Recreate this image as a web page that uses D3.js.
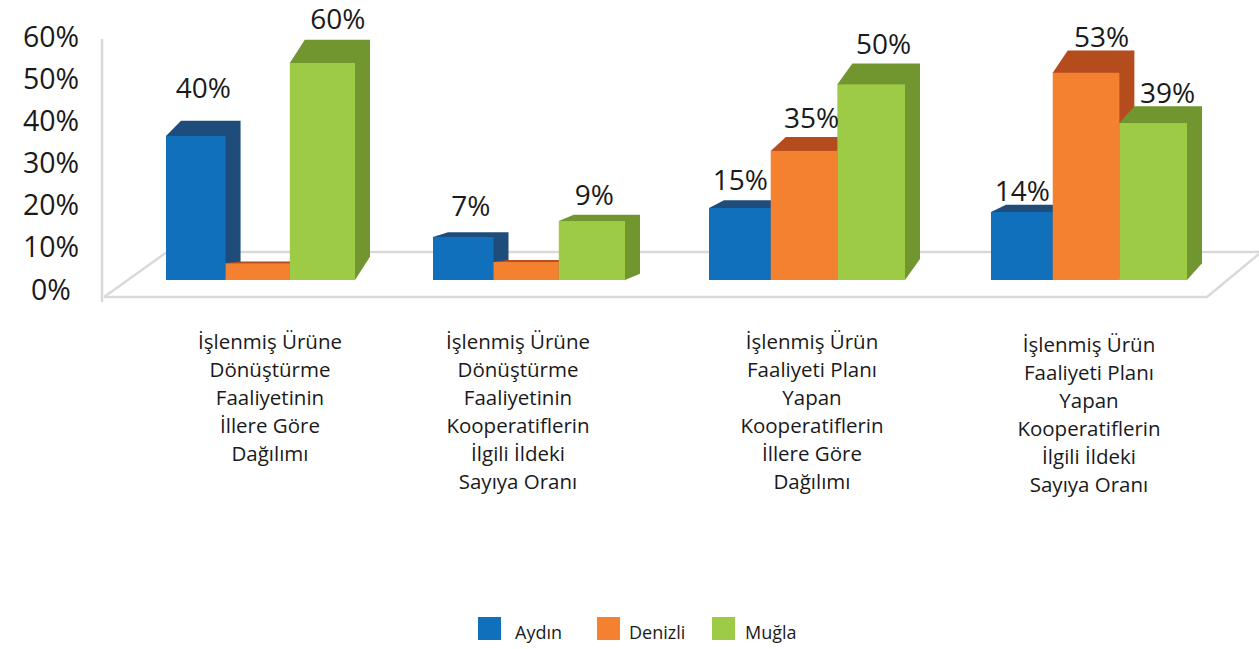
<!DOCTYPE html>
<html>
<head>
<meta charset="utf-8">
<script src="https://cdn.jsdelivr.net/npm/d3@7"></script>
<style>
    html, body { margin: 0; padding: 0; background: #fff; }
    text { font-family: "Open Sans", sans-serif; fill: #1a1a1a; }
    .domain { display: none; }
    .tick line { display: none; }
</style>
</head>
<body>
<div id="chart"></div>
<script>
var categories = [
    ["İşlenmiş Ürüne", "Dönüştürme", "Faaliyetinin", "İllere Göre", "Dağılımı"],
    ["İşlenmiş Ürüne", "Dönüştürme", "Faaliyetinin", "Kooperatiflerin", "İlgili İldeki", "Sayıya Oranı"],
    ["İşlenmiş Ürün", "Faaliyeti Planı", "Yapan", "Kooperatiflerin", "İllere Göre", "Dağılımı"],
    ["İşlenmiş Ürün", "Faaliyeti Planı", "Yapan", "Kooperatiflerin", "İlgili İldeki", "Sayıya Oranı"]
];
var seriesNames = ["Aydın", "Denizli", "Muğla"];
var tickLabels = ["0%", "10%", "20%", "30%", "40%", "50%", "60%"];

// heights as drawn in the picture, read against the front baseline
var aydin   = [39.8, 11.9, 19.9, 18.8];
var denizli = [4.6, 5, 35.7, 57.3];
var mugla   = [60, 16.3, 54.1, 43.4];

// what the bars print on top, blank where no label is shown
var aydinLabels   = ["40%", "7%", "15%", "14%"];
var denizliLabels = ["", "", "35%", "53%"];
var muglaLabels   = ["60%", "9%", "50%", "39%"];

var colors = ["#1170bb", "#f3812f", "#9dcb46"];
var sideColors = ["#1e4d7c", "#b54c1e", "#71962f"];
var wallColor = "#d9d9d9";

var width = 1259, height = 649;

// layout
var groupRange = [[166, 355], [433, 625], [709, 905], [991, 1187]];
var seriesShare = [0, 0.315, 0.655, 1];
var labelCenter = [270, 518, 812, 1089];
var labelTop = [349, 349, 349, 352];
var lineHeight = 28;
var depthX = 15, depthY = 0.107;
var labelShiftX = [[0, 0, 8], [0, 0, -5], [-7, 0, 5], [-7, 8, 7]];
var labelGap = [[23, 0, 11], [16, 0, 10], [10, 9, 9], [4, 4, 3]];
var legendX = [478, 597, 712];
var legendTextX = [515, 629, 745];

var seriesValues = [aydin, denizli, mugla];
var seriesLabels = [aydinLabels, denizliLabels, muglaLabels];

var y = d3.scaleLinear().domain([0, 60]).range([280, 63]);
var yTicks = d3.scalePoint().domain(tickLabels).range([290, 37]);
var groupX = d3.scaleOrdinal().domain(d3.range(categories.length)).range(groupRange);

var svg = d3.select("#chart").append("svg")
    .attr("width", width)
    .attr("height", height)
    .style("display", "block");

// floor and wall
var floor = svg.append("g")
    .attr("fill", "none")
    .attr("stroke", wallColor)
    .attr("stroke-width", 2.5);
floor.append("path").attr("d", "M102,39V302");
floor.append("path").attr("d", "M104,297H1207L1259,254");
floor.append("path").attr("d", "M104,297L167,252H1259");

var yAxis = d3.axisLeft(yTicks).tickSize(0).tickPadding(0);
svg.append("g")
    .attr("transform", "translate(51,0)")
    .call(yAxis)
    .selectAll("text")
    .attr("text-anchor", "middle")
    .attr("font-size", 28.5)
    .attr("font-family", '"Open Sans", sans-serif')
    .attr("fill", "#1a1a1a");

function barData(g, s) {
    var x = d3.scaleLinear().domain([0, 1]).range(groupX(g));
    var v = seriesValues[s][g];
    var dy = (y(0) - y(v)) * depthY;
    return {
        g: g, s: s,
        x0: x(seriesShare[s]), x1: x(seriesShare[s + 1]),
        top: y(v), base: y(0), dy: dy
    };
}

var bars = [];
categories.forEach(function (c, g) {
    seriesNames.forEach(function (n, s) { bars.push(barData(g, s)); });
});

var bar = svg.selectAll(".bar-group")
    .data(bars)
    .enter().append("g").attr("class", "bar-group");

bar.append("path")
    .attr("fill", function (d) { return sideColors[d.s]; })
    .attr("d", function (d) {
        return "M" + d.x0 + "," + d.top +
            "L" + (d.x0 + depthX) + "," + (d.top - d.dy) +
            "H" + (d.x1 + depthX) +
            "V" + (d.base - d.dy) +
            "L" + d.x1 + "," + d.base + "Z";
    });

bar.append("rect")
    .attr("x", function (d) { return d.x0; })
    .attr("y", function (d) { return d.top; })
    .attr("width", function (d) { return d.x1 - d.x0; })
    .attr("height", function (d) { return d.base - d.top; })
    .attr("fill", function (d) { return colors[d.s]; });

// value labels go on top of every bar
svg.selectAll(".value")
    .data(bars.filter(function (d) { return seriesLabels[d.s][d.g] !== ""; }))
    .enter().append("text")
    .attr("class", "value")
    .attr("text-anchor", "middle")
    .attr("font-size", 28)
    .attr("x", function (d) { return (d.x0 + d.x1) / 2 + depthX / 2 + labelShiftX[d.g][d.s]; })
    .attr("y", function (d) { return d.top - d.dy - labelGap[d.g][d.s]; })
    .text(function (d) { return seriesLabels[d.s][d.g]; });

// category labels
var cat = svg.selectAll(".category")
    .data(categories)
    .enter().append("text")
    .attr("class", "category")
    .attr("text-anchor", "middle")
    .attr("font-size", 20.5);

cat.selectAll("tspan")
    .data(function (d, i) { return d.map(function (line, j) { return { line: line, i: i, j: j }; }); })
    .enter().append("tspan")
    .attr("x", function (d) { return labelCenter[d.i]; })
    .attr("y", function (d) { return labelTop[d.i] + d.j * lineHeight; })
    .text(function (d) { return d.line; });

// legend
var legend = svg.selectAll(".legend")
    .data(seriesNames)
    .enter().append("g").attr("class", "legend");

legend.append("rect")
    .attr("x", function (d, i) { return legendX[i]; })
    .attr("y", 617)
    .attr("width", 23)
    .attr("height", 23)
    .attr("fill", function (d, i) { return colors[i]; });

legend.append("text")
    .attr("x", function (d, i) { return legendTextX[i]; })
    .attr("y", 639)
    .attr("font-size", 18)
    .text(function (d) { return d; });
</script>
</body>
</html>
